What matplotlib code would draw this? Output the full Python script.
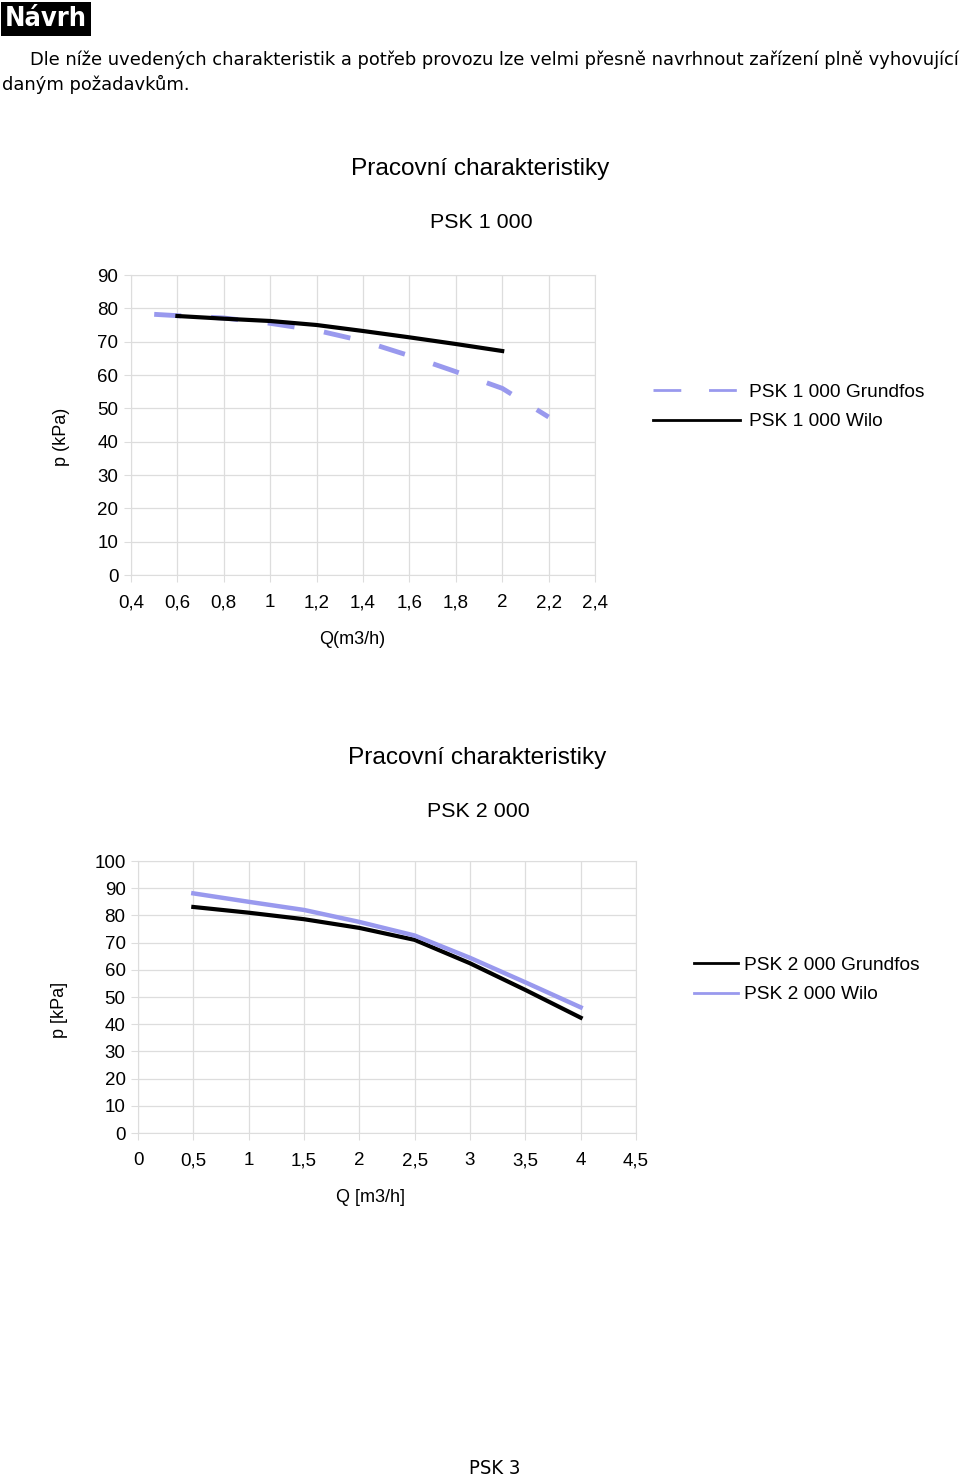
import numpy as np
import matplotlib.pyplot as plt

plt.rcParams['font.family'] = ['Liberation Sans', 'DejaVu Sans']
plt.rcParams['lines.scale_dashes'] = False

# === Data: PSK 1 000 ===
q1_grundfos = [0.5, 0.6, 0.8, 1.0, 1.2, 1.4, 1.6, 1.8, 2.0, 2.2]
p1_grundfos = [78.2, 77.8, 77.1, 75.5, 73.4, 70.2, 65.8, 61.0, 56.0, 47.4]
q1_wilo = [0.6, 0.8, 1.0, 1.2, 1.4, 1.6, 1.8, 2.0]
p1_wilo = [77.7, 76.9, 76.2, 75.0, 73.2, 71.3, 69.3, 67.2]
x1_ticks = [0.4, 0.6, 0.8, 1.0, 1.2, 1.4, 1.6, 1.8, 2.0, 2.2, 2.4]
x1_labels = ['0,4', '0,6', '0,8', '1', '1,2', '1,4', '1,6', '1,8', '2', '2,2', '2,4']

# === Data: PSK 2 000 ===
q2 = [0.5, 1.0, 1.5, 2.0, 2.5, 3.0, 3.5, 4.0]
p2_grundfos = [83.1, 81.0, 78.6, 75.4, 71.0, 62.4, 52.6, 42.4]
p2_wilo = [88.1, 85.0, 82.0, 77.6, 72.6, 64.4, 55.4, 46.2]
x2_ticks = [0, 0.5, 1.0, 1.5, 2.0, 2.5, 3.0, 3.5, 4.0, 4.5]
x2_labels = ['0', '0,5', '1', '1,5', '2', '2,5', '3', '3,5', '4', '4,5']

LAV = '#9999ee'
GRID = '#dddddd'
FS = 13.5
DASH = (20, 20)

fig = plt.figure(figsize=(9.6, 14.78), dpi=100)


def style_axes(ax):
    ax.grid(True, color=GRID, linewidth=0.9)
    ax.set_axisbelow(True)
    for s in ax.spines.values():
        s.set_color(GRID)
    ax.tick_params(colors=GRID, labelcolor='black', labelsize=FS, length=5, pad=4)
    ax.tick_params(axis='x', pad=9)


# header
fig.text(5 / 960, 1 - 19 / 1478, 'Návrh', fontsize=19.5, fontweight='bold', color='white',
         family='DejaVu Sans', fontstretch='condensed', va='center', ha='left',
         bbox=dict(facecolor='black', edgecolor='none', pad=2.5))
fig.text(30 / 960, 1 - 60 / 1478,
         'Dle níže uvedených charakteristik a potřeb provozu lze velmi přesně navrhnout zařízení plně vyhovující',
         fontsize=12.9, family='DejaVu Sans', va='center', ha='left')
fig.text(2 / 960, 1 - 84 / 1478, 'daným požadavkům.',
         fontsize=12.9, family='DejaVu Sans', va='center', ha='left')

# === Chart 1 ===
ax1 = fig.add_axes([131 / 960, 1 - 575 / 1478, 464 / 960, 300 / 1478])
style_axes(ax1)
ax1.plot(q1_grundfos, p1_grundfos, color=LAV, linewidth=3.5, dashes=(19.5, 21.5),
         label='PSK 1 000 Grundfos')
ax1.plot(q1_wilo, p1_wilo, color='black', linewidth=3, label='PSK 1 000 Wilo')
ax1.set_xlim(0.4, 2.4)
ax1.set_ylim(0, 90)
ax1.set_xticks(x1_ticks)
ax1.set_xticklabels(x1_labels)
ax1.set_yticks(range(0, 91, 10))
fig.text(352 / 960, 1 - 640 / 1478, 'Q(m3/h)', fontsize=13, ha='center', va='center')
fig.text(62 / 960, 1 - 437 / 1478, 'p (kPa)', fontsize=13, rotation=90, ha='center', va='center')
fig.text(480 / 960, 1 - 169 / 1478, 'Pracovní charakteristiky', fontsize=17.6, ha='center', va='center')
fig.text(481 / 960, 1 - 223 / 1478, 'PSK 1 000', fontsize=15.4, ha='center', va='center')
h, l = ax1.get_legend_handles_labels()
leg1 = fig.legend(h, l, loc='center left', bbox_to_anchor=(636 / 960, 1 - 407 / 1478),
                  frameon=False, fontsize=13.8, handlelength=4.5, handletextpad=0.5,
                  labelspacing=0.62)
for ln in leg1.get_lines():
    ln.set_linewidth(2)
leg1.get_lines()[0].set_dashes(DASH)

# === Chart 2 ===
ax2 = fig.add_axes([138 / 960, 1 - 1133 / 1478, 498 / 960, 272 / 1478])
style_axes(ax2)
ax2.plot(q2, p2_grundfos, color='black', linewidth=3, label='PSK 2 000 Grundfos')
ax2.plot(q2, p2_wilo, color=LAV, linewidth=3.2, label='PSK 2 000 Wilo')
ax2.set_xlim(0, 4.5)
ax2.set_ylim(0, 100)
ax2.set_xticks(x2_ticks)
ax2.set_xticklabels(x2_labels)
ax2.set_yticks(range(0, 101, 10))
fig.text(371 / 960, 1 - 1198 / 1478, 'Q [m3/h]', fontsize=13, ha='center', va='center')
fig.text(60 / 960, 1 - 1010 / 1478, 'p [kPa]', fontsize=13, rotation=90, ha='center', va='center')
fig.text(477 / 960, 1 - 758 / 1478, 'Pracovní charakteristiky', fontsize=17.6, ha='center', va='center')
fig.text(478 / 960, 1 - 811 / 1478, 'PSK 2 000', fontsize=15.4, ha='center', va='center')
h, l = ax2.get_legend_handles_labels()
leg2 = fig.legend(h, l, loc='center left', bbox_to_anchor=(677 / 960, 1 - 980 / 1478),
                  frameon=False, fontsize=13.8, handlelength=2.3, handletextpad=0.3,
                  labelspacing=0.62)
for ln in leg2.get_lines():
    ln.set_linewidth(2)

# footer
fig.text(495 / 960, 1 - 1468 / 1478, 'PSK 3', fontsize=14.5, family='DejaVu Sans',
         fontstretch='condensed', ha='center', va='center')

fig.savefig('out.png', dpi=100)
